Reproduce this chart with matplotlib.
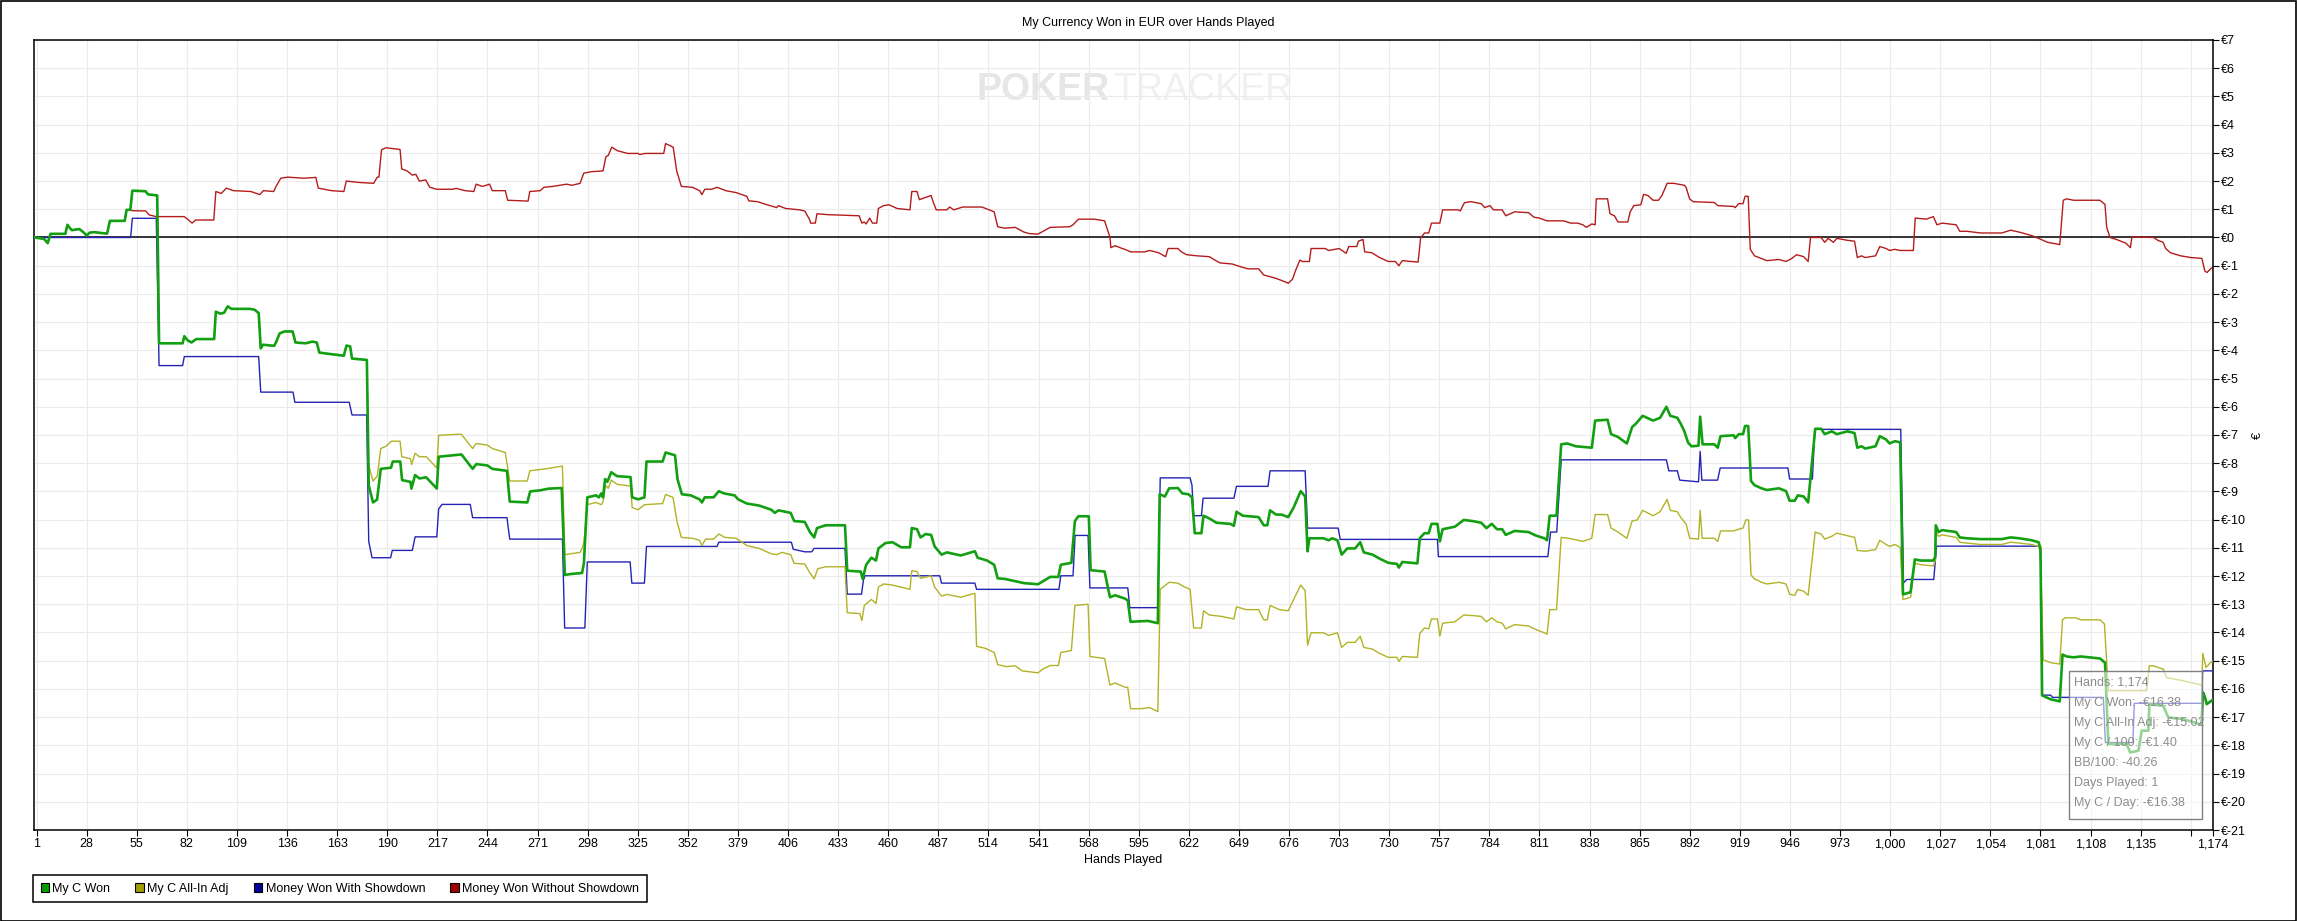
import matplotlib
matplotlib.use('Agg')
import matplotlib.pyplot as plt
from matplotlib import font_manager
from matplotlib.patches import Patch, Rectangle

# ---------------- data (hand number, cumulative EUR) ----------------
series_names = ["My C Won", "My C All-In Adj", "Money Won With Showdown", "Money Won Without Showdown"]

won_pts = [
    (0, 0), (5, -0.05), (7, -0.2), (8.5, 0.13), (16.5, 0.13), (17.6, 0.45), (19, 0.33), (20, 0.26), (24, 0.3),
    (26, 0.2), (28, 0.07), (29.5, 0.17), (32, 0.19), (37, 0.15), (39, 0.14), (40.5, 0.59), (48.5, 0.59),
    (49.5, 0.98), (51.5, 0.98), (52.6, 1.66), (59.7, 1.64), (61, 1.53), (66, 1.49), (67, -3.75), (79.7, -3.75),
    (80.6, -3.5), (82.5, -3.65), (84.5, -3.72), (87, -3.6), (96.7, -3.6), (97.6, -2.63), (100, -2.7), (102, -2.67),
    (104, -2.44), (106, -2.53), (116, -2.53), (118.5, -2.56), (120.7, -2.68), (121.8, -3.93), (123, -3.8),
    (129, -3.84), (130, -3.72), (132, -3.4), (134.5, -3.33), (139, -3.33), (140.5, -3.72), (146, -3.75),
    (149.6, -3.69), (152, -3.72), (153.4, -4.08), (158, -4.12), (166.6, -4.19), (168, -3.83), (170, -3.86),
    (171, -4.29), (179, -4.34), (180, -8.78), (182.3, -9.39), (184.5, -9.29), (186.5, -8.2), (192, -8.16),
    (193, -7.94), (197, -7.94), (198, -8.6), (202.5, -8.66), (203, -8.9), (205, -8.42), (207.3, -8.54), (211, -8.5),
    (216.7, -8.9), (217.7, -7.77), (230, -7.69), (236, -8.2), (238, -8.03), (244, -8.08), (246.6, -8.2),
    (254.5, -8.27), (256, -9.36), (265.5, -9.39), (267, -9.0), (272.5, -8.96), (277, -8.9), (284, -8.88),
    (285.7, -11.96), (288.6, -11.93), (295, -11.89), (296, -11.53), (297.8, -9.21), (302.5, -9.14), (304, -9.21),
    (305.4, -9.07), (306.3, -9.21), (307.4, -8.56), (308.6, -8.66), (310.7, -8.32), (313.9, -8.46), (321.1, -8.49),
    (322, -9.21), (325.2, -9.28), (328.6, -9.21), (329.7, -7.94), (338.4, -7.94), (340, -7.62), (345.1, -7.72),
    (346.4, -8.56), (348.8, -9.10), (353.6, -9.14), (358.3, -9.28), (359.6, -9.39), (361.1, -9.21), (365.9, -9.21),
    (368.7, -8.99), (371.5, -9.07), (377.2, -9.14), (379.1, -9.28), (383.8, -9.43), (390.4, -9.50), (397, -9.65),
    (398.9, -9.76), (400.8, -9.67), (407.4, -9.76), (409.3, -10.05), (415, -10.08), (417.8, -10.44),
    (420.1, -10.63), (421.6, -10.30), (426.3, -10.20), (436.7, -10.20), (437.9, -11.81), (445.2, -11.84),
    (446.2, -12.10), (448.1, -11.60), (450.9, -11.35), (453.4, -11.45), (454.7, -11.02), (458.5, -10.83),
    (462.3, -10.80), (467, -10.98), (471.7, -10.98), (472.7, -10.30), (475.5, -10.34), (477.4, -10.63),
    (480.2, -10.51), (483.1, -10.54), (485, -10.95), (488.7, -11.24), (491.6, -11.16), (499.1, -11.27),
    (506.7, -11.12), (508.2, -11.35), (513.3, -11.45), (517.1, -11.60), (519, -12.08), (522.8, -12.10),
    (528.4, -12.18), (533.2, -12.25), (540.7, -12.29), (543.5, -12.18), (547.3, -12.03), (551.7, -12.03),
    (553, -11.60), (558.7, -11.53), (560.6, -10.05), (562.5, -9.88), (568.1, -9.88), (569.1, -11.79),
    (576.6, -11.84), (579.5, -12.75), (582.3, -12.68), (587.6, -12.80), (589.1, -12.86), (590.6, -13.62),
    (600, -13.59), (605.3, -13.67), (606.3, -9.10), (609.1, -9.18), (611.4, -8.89), (616.1, -8.88), (618.5, -9.07),
    (621.8, -9.10), (623.7, -9.21), (625.2, -10.48), (628.8, -10.48), (629.9, -9.86), (633.1, -9.96),
    (636.9, -10.11), (644.4, -10.15), (646.3, -10.22), (647.7, -9.72), (651.1, -9.86), (659.6, -9.91),
    (662.4, -10.20), (664.3, -10.20), (665.8, -9.67), (669, -9.82), (671.9, -9.82), (675.6, -9.91), (678.5, -9.57),
    (682.3, -8.99), (684.7, -9.18), (686, -11.12), (687, -10.66), (694.5, -10.66), (697.4, -10.73), (699.3, -10.66),
    (702.1, -10.73), (704.4, -11.24), (707.4, -11.02), (711.6, -11.02), (714.4, -10.80), (716.3, -11.16),
    (721, -11.24), (724.8, -11.38), (729.5, -11.53), (734.2, -11.57), (735.2, -11.70), (737.1, -11.50),
    (741.8, -11.53), (745.2, -11.55), (746.5, -10.66), (749, -10.48), (751.3, -10.48), (752.8, -10.15),
    (756, -10.15), (757.3, -10.77), (758.8, -10.34), (765.4, -10.25), (770.2, -10.01), (774.9, -10.05),
    (779.6, -10.11), (782.4, -10.30), (785.3, -10.15), (788.1, -10.34), (790.9, -10.34), (792.8, -10.54),
    (797.6, -10.40), (805.1, -10.44), (808.9, -10.56), (813.6, -10.66), (815.1, -10.73), (816.5, -9.86),
    (820.2, -9.86), (822.7, -7.33), (825.9, -7.30), (830.6, -7.40), (839.2, -7.45), (841, -6.49), (847.7, -6.46),
    (849.6, -6.97), (853.3, -7.07), (858.1, -7.30), (860.9, -6.72), (862.8, -6.61), (866.6, -6.32), (872.2, -6.49),
    (876, -6.39), (879.4, -6.00), (881.5, -6.32), (885.3, -6.39), (887.2, -6.61), (889.1, -6.87), (891, -7.26),
    (892.9, -7.40), (896.7, -7.38), (897.6, -6.35), (898.9, -7.33), (905.2, -7.33), (907.1, -7.45), (908.6, -7.04),
    (915.6, -7.01), (916.5, -7.11), (918.4, -6.97), (920.7, -6.97), (921.8, -6.68), (923.5, -6.68), (925, -8.63),
    (926.9, -8.78), (930.7, -8.89), (933.5, -8.95), (940.1, -8.89), (943.9, -8.99), (945.8, -9.33), (948.6, -9.33),
    (950.2, -9.14), (953.4, -9.18), (955.8, -9.39), (959.6, -6.78), (962.8, -6.78), (964.7, -6.97), (968.5, -6.87),
    (971.3, -6.97), (977, -6.87), (980.8, -6.93), (982.3, -7.45), (984.6, -7.40), (986.5, -7.48), (992.1, -7.40),
    (994.4, -7.04), (997.8, -7.16), (999.7, -7.30), (1002.5, -7.22), (1005.4, -7.26), (1006.9, -12.65),
    (1011, -12.57), (1013.3, -11.41), (1016.7, -11.45), (1023.3, -11.45), (1024.3, -11.31), (1024.6, -10.20),
    (1026.1, -10.44), (1028, -10.37), (1035.6, -10.44), (1037.5, -10.63), (1041.3, -10.66), (1048.8, -10.69),
    (1060.2, -10.69), (1064.9, -10.63), (1069.6, -10.66), (1076.2, -10.73), (1080, -10.80), (1081, -11.02),
    (1081.9, -16.23), (1086.6, -16.37), (1091.4, -16.44), (1092.9, -14.78), (1095.1, -14.85), (1098.9, -14.88),
    (1102.7, -14.85), (1113.1, -14.92), (1115.8, -15.07), (1117.6, -17.95), (1127.5, -17.95), (1129.3, -18.25),
    (1133.8, -18.19), (1135.6, -17.48), (1139.2, -17.48), (1139.7, -16.54), (1147.2, -16.6), (1149.9, -17.01),
    (1158, -17.07), (1167, -17.25), (1167.8, -17.25), (1168.6, -16.12), (1169.7, -16.3), (1170.6, -16.54),
    (1172.7, -16.44), (1174, -16.38),
]

allin_pts = [
    (0, 0), (5, -0.05), (7, -0.2), (8.5, 0.13), (16.5, 0.13), (17.6, 0.45), (19, 0.33), (20, 0.26), (24, 0.3),
    (26, 0.2), (28, 0.07), (29.5, 0.17), (32, 0.19), (37, 0.15), (39, 0.14), (40.5, 0.59), (48.5, 0.59),
    (49.5, 0.98), (51.5, 0.98), (52.6, 1.66), (59.7, 1.64), (61, 1.53), (66, 1.49), (67, -3.75), (79.7, -3.75),
    (80.6, -3.5), (82.5, -3.65), (84.5, -3.72), (87, -3.6), (96.7, -3.6), (97.6, -2.63), (100, -2.7), (102, -2.67),
    (104, -2.44), (106, -2.53), (116, -2.53), (118.5, -2.56), (120.7, -2.68), (121.8, -3.93), (123, -3.8),
    (129, -3.84), (130, -3.72), (132, -3.4), (134.5, -3.33), (139, -3.33), (140.5, -3.72), (146, -3.75),
    (149.6, -3.69), (152, -3.72), (153.4, -4.08), (158, -4.12), (166.6, -4.19), (168, -3.83), (170, -3.86),
    (171, -4.29), (179, -4.34), (179.9, -8.05), (182.3, -8.63), (184.6, -8.46), (186.5, -7.48), (189.3, -7.40),
    (192.2, -7.22), (196.9, -7.22), (197.8, -7.77), (202.5, -7.84), (203.1, -8.05), (205, -7.65), (207.3, -7.77),
    (211, -7.77), (216.7, -8.17), (217.7, -7.01), (229.9, -6.97), (236, -7.48), (237.9, -7.30), (244.1, -7.36),
    (246.6, -7.48), (253.6, -7.62), (256, -8.63), (265.5, -8.63), (266.8, -8.27), (275.3, -8.20), (284.4, -8.10),
    (285.7, -11.24), (293.9, -11.16), (295, -11.02), (296, -10.80), (297.8, -9.47), (302.5, -9.39), (305.4, -9.47),
    (306.3, -9.36), (307.6, -8.78), (309.1, -8.89), (310.7, -8.60), (313.9, -8.75), (321.1, -8.81), (322, -9.57),
    (325.2, -9.65), (328.6, -9.47), (338.4, -9.43), (340, -9.11), (344, -9.21), (346.2, -10.08), (348.5, -10.63),
    (354.5, -10.66), (358.3, -10.73), (359.6, -10.92), (361.5, -10.69), (365.9, -10.69), (368.7, -10.51),
    (372, -10.63), (378, -10.66), (383.8, -10.92), (390.4, -11.02), (397, -11.21), (399.9, -11.24),
    (402.7, -11.16), (407.4, -11.24), (409.3, -11.55), (415, -11.57), (417.8, -11.89), (420.1, -12.10),
    (422, -11.74), (426.3, -11.67), (436.7, -11.67), (437.9, -13.30), (444.7, -13.33), (445.8, -13.58),
    (447.1, -13.04), (450.9, -12.83), (453.4, -12.97), (454.7, -12.39), (457.5, -12.28), (462.3, -12.32),
    (471.7, -12.47), (472.7, -11.81), (475.5, -11.84), (477.4, -12.08), (483.1, -11.99), (485, -12.39),
    (488.7, -12.71), (491.6, -12.65), (499.1, -12.75), (506.7, -12.61), (507.6, -14.49), (512.3, -14.56),
    (517.1, -14.71), (519, -15.14), (523.7, -15.21), (528.4, -15.18), (532.2, -15.36), (540.7, -15.43),
    (543.5, -15.29), (547.3, -15.17), (551.7, -15.17), (553, -14.71), (558.7, -14.64), (560.6, -13.04),
    (567.7, -13.00), (568.7, -14.85), (576.6, -14.92), (579.5, -15.86), (582.3, -15.79), (587.6, -15.94),
    (589.1, -15.94), (590.6, -16.70), (596.2, -16.70), (600.8, -16.66), (605.3, -16.80), (606.6, -12.47),
    (611.4, -12.22), (616.1, -12.25), (618.9, -12.36), (622.7, -12.47), (624.6, -13.84), (628.8, -13.84),
    (629.9, -13.23), (633.1, -13.38), (639.7, -13.43), (646.3, -13.52), (647.7, -13.09), (652.9, -13.19),
    (659.6, -13.19), (662.4, -13.55), (664.3, -13.55), (665.8, -13.04), (670.9, -13.19), (675.6, -13.23),
    (678.5, -12.83), (682.3, -12.32), (684.7, -12.51), (686, -14.45), (687.9, -14.01), (694.5, -14.01),
    (697.4, -14.10), (702.1, -14.01), (704.4, -14.53), (707.4, -14.35), (711.6, -14.35), (714.4, -14.13),
    (716.3, -14.53), (721, -14.59), (724.8, -14.74), (729.5, -14.88), (734.2, -14.88), (735.2, -15.03),
    (737.1, -14.85), (745.2, -14.88), (746.5, -14.03), (749, -13.84), (751.3, -13.87), (752.8, -13.52),
    (756, -13.52), (757.3, -14.13), (758.8, -13.67), (765.4, -13.62), (770.2, -13.38), (774.9, -13.40),
    (779.6, -13.43), (782.4, -13.62), (785.3, -13.48), (788.1, -13.62), (790.9, -13.67), (792.8, -13.87),
    (797.6, -13.72), (805.1, -13.77), (809.6, -13.91), (813.6, -14.01), (815.1, -14.06), (816.5, -13.19),
    (820.2, -13.19), (822.7, -10.63), (826.6, -10.66), (834.4, -10.77), (839.2, -10.66), (841, -9.82),
    (847.7, -9.82), (849.6, -10.30), (853.3, -10.44), (858.1, -10.66), (860.9, -10.05), (863.7, -10.01),
    (866.6, -9.67), (872.2, -9.86), (876, -9.72), (879.8, -9.28), (881.5, -9.67), (885.3, -9.72), (887.2, -9.93),
    (890, -10.15), (892, -10.66), (896.7, -10.69), (897.6, -9.67), (898.7, -10.66), (905.2, -10.66),
    (907.1, -10.77), (908.6, -10.40), (915.6, -10.40), (918.4, -10.34), (920.7, -10.30), (922.2, -10.01),
    (923.7, -10.01), (925, -11.96), (926.9, -12.10), (930.7, -12.22), (933.5, -12.28), (940.1, -12.22),
    (943.9, -12.28), (945.8, -12.65), (948.6, -12.68), (950.2, -12.47), (953.4, -12.54), (955.8, -12.68),
    (959.6, -10.44), (962.8, -10.51), (964.7, -10.69), (968.5, -10.59), (971.3, -10.48), (975.1, -10.54),
    (980.8, -10.63), (982.3, -11.09), (986.5, -11.12), (992.1, -11.06), (994.4, -10.73), (997.8, -10.88),
    (999.7, -10.95), (1002.5, -10.88), (1005.4, -10.98), (1006.9, -12.83), (1011, -12.75), (1013.3, -11.55),
    (1016.7, -11.60), (1023.3, -11.64), (1024.3, -11.45), (1024.6, -10.44), (1026.1, -10.59), (1028, -10.54),
    (1035.6, -10.63), (1037.5, -10.80), (1041.3, -10.83), (1048.8, -10.88), (1060.2, -10.88), (1064.9, -10.80),
    (1069.6, -10.83), (1076.2, -10.88), (1080, -10.95), (1081, -11.16), (1082.5, -14.97), (1086.6, -15.07),
    (1091.4, -15.12), (1092.9, -13.55), (1094.3, -13.48), (1100, -13.48), (1102.7, -13.55), (1113.1, -13.55),
    (1115.5, -13.70), (1117.6, -16.06), (1138.2, -16.06), (1139.7, -15.18), (1141.8, -15.18), (1147.2, -15.3),
    (1149, -15.6), (1158, -15.71), (1167, -15.85), (1167.9, -15.89), (1168.5, -14.74), (1170.2, -15.24),
    (1172.7, -15.06), (1174, -15.02),
]

sd_pts = [
    (0, 0), (51.7, 0), (52.6, 0.68), (65.5, 0.68), (67, -4.54), (79.7, -4.54), (80.6, -4.22), (120.7, -4.22),
    (121.8, -5.48), (139.2, -5.48), (140.2, -5.84), (169.5, -5.84), (171, -6.29), (178.9, -6.29), (180, -10.77),
    (181.8, -11.35), (191.8, -11.35), (192.7, -11.09), (203.5, -11.09), (205, -10.61), (216.7, -10.61),
    (217.7, -9.62), (219.5, -9.46), (234.7, -9.46), (236, -9.93), (254.5, -9.93), (256, -10.69), (284.4, -10.69),
    (285.6, -13.84), (296.5, -13.84), (297.8, -11.50), (320.9, -11.50), (321.8, -12.25), (328.6, -12.25),
    (329.7, -10.95), (367.7, -10.95), (368.7, -10.80), (407.8, -10.80), (408.8, -11.05), (415, -11.14),
    (418.8, -11.14), (420, -11.02), (436.7, -11.02), (437.9, -12.64), (445.6, -12.64), (446.6, -12.15),
    (447.5, -11.99), (487.8, -11.99), (488.7, -12.25), (506.7, -12.25), (507.6, -12.47), (552, -12.47),
    (553, -11.99), (559.6, -11.99), (560.7, -10.56), (567.7, -10.56), (568.7, -12.42), (589.1, -12.42),
    (590.2, -13.12), (605.3, -13.12), (606.6, -8.52), (622.7, -8.52), (623.7, -8.78), (624.6, -9.86),
    (628.8, -9.86), (629.7, -9.24), (646.3, -9.24), (647.7, -8.82), (664.7, -8.82), (665.8, -8.27), (684.7, -8.27),
    (686, -10.30), (702.5, -10.30), (703.6, -10.70), (756, -10.70), (756.5, -11.31), (815.5, -11.31),
    (817, -10.44), (820.3, -10.44), (822.7, -7.88), (879.4, -7.88), (880.7, -8.27), (885.3, -8.27),
    (886.6, -8.60), (896.7, -8.66), (897.6, -7.58), (898.5, -8.60), (907, -8.60), (908.4, -8.17), (944.9, -8.17),
    (945.8, -8.56), (958.1, -8.56), (959.4, -6.80), (1005.7, -6.80), (1007.2, -12.24), (1009, -12.12),
    (1023.5, -12.12), (1025, -10.94), (1081, -10.94), (1081.9, -16.22), (1086.5, -16.22), (1087.5, -16.3),
    (1114.9, -16.3), (1116, -17.9), (1130.8, -17.9), (1131.6, -16.51), (1167.9, -16.51), (1168.4, -15.36),
    (1174, -15.36),
]

nosd_pts = [
    (0, 0), (5, -0.05), (7, -0.2), (8.5, 0.13), (16.5, 0.13), (17.6, 0.45), (19, 0.33), (20, 0.26), (24, 0.3),
    (26, 0.2), (28, 0.07), (29.5, 0.17), (32, 0.19), (37, 0.15), (39, 0.14), (40.5, 0.59), (48.5, 0.59),
    (49.5, 0.98), (51.5, 0.98), (52.6, 0.95), (59.8, 0.94), (61.7, 0.80), (65.5, 0.74), (80.6, 0.74), (82.9, 0.62),
    (84.8, 0.51), (86.7, 0.62), (96.5, 0.62), (97.6, 1.63), (100.5, 1.56), (103.3, 1.75), (107.1, 1.66),
    (116.5, 1.63), (121.3, 1.52), (123.2, 1.66), (128.8, 1.63), (129.8, 1.78), (132.6, 2.10), (136.4, 2.14),
    (144.9, 2.10), (151.5, 2.13), (152.8, 1.75), (160, 1.66), (166.6, 1.63), (167.9, 2.00), (175.1, 1.95),
    (182.7, 1.92), (184.6, 2.14), (185.5, 2.14), (186.9, 3.11), (189.3, 3.18), (196.9, 3.12), (197.8, 2.43),
    (200.7, 2.36), (203.5, 2.21), (205.4, 2.24), (207.3, 2.00), (210.7, 2.04), (212.9, 1.78), (216.7, 1.71),
    (225.2, 1.71), (227.1, 1.74), (231.9, 1.66), (236.6, 1.63), (237.9, 1.89), (241.3, 1.81), (245.1, 1.89),
    (246.6, 1.66), (253.6, 1.66), (254.9, 1.32), (265.9, 1.29), (266.8, 1.63), (272.5, 1.66), (274.4, 1.78),
    (279.1, 1.81), (286.7, 1.89), (289.5, 1.85), (293.9, 1.92), (295.9, 2.28), (299.7, 2.33), (306.3, 2.36),
    (307.8, 2.86), (309.1, 2.91), (311, 3.20), (313.9, 3.08), (319.5, 2.98), (325.2, 2.98), (326.1, 2.94),
    (329, 2.98), (339, 2.98), (340, 3.33), (344.1, 3.20), (346, 2.36), (348.5, 1.81), (354.5, 1.78),
    (358.3, 1.66), (359.6, 1.52), (361.1, 1.71), (364.9, 1.71), (367.7, 1.78), (372.5, 1.66), (378.1, 1.59),
    (383.8, 1.46), (384.8, 1.30), (389.5, 1.27), (394.2, 1.17), (399.9, 1.06), (400.8, 1.13), (404.6, 1.03),
    (412.2, 0.98), (415, 0.94), (417.5, 0.65), (418.2, 0.51), (420.7, 0.51), (421.6, 0.84), (427.3, 0.81),
    (444.3, 0.77), (445.8, 0.51), (447.1, 0.55), (448.1, 0.48), (450, 0.69), (451.5, 0.51), (453.8, 0.51),
    (454.7, 1.03), (457.5, 1.13), (460.4, 1.16), (464.7, 1.03), (471.7, 0.98), (472.7, 1.63), (475.5, 1.63),
    (476.8, 1.34), (480.2, 1.42), (483.1, 1.49), (484.4, 1.23), (485.9, 0.98), (491.6, 0.98), (493.1, 1.08),
    (495.3, 0.98), (500.1, 1.08), (510.5, 1.08), (517.1, 0.91), (519, 0.38), (522.8, 0.33), (528.4, 0.36),
    (533.2, 0.19), (536, 0.14), (540.7, 0.12), (543.5, 0.22), (547.3, 0.36), (557.7, 0.38), (559.6, 0.45),
    (562.5, 0.65), (571, 0.65), (576.6, 0.59), (579.5, 0.01), (580, -0.36), (582.3, -0.29), (586.1, -0.39),
    (587.6, -0.42), (590.6, -0.51), (598.1, -0.51), (601, -0.46), (605.7, -0.54), (609.5, -0.68), (610.8, -0.39),
    (616.1, -0.39), (618, -0.51), (620.8, -0.61), (626.5, -0.65), (633.1, -0.68), (636, -0.80), (638.8, -0.90),
    (645.4, -0.94), (650.1, -1.04), (653.9, -1.11), (659.6, -1.11), (662.4, -1.33), (668.1, -1.43),
    (671.9, -1.52), (675.6, -1.62), (677.9, -1.48), (679.4, -1.19), (681.9, -0.80), (683.2, -0.85), (687, -0.85),
    (687.9, -0.39), (695.5, -0.39), (697.4, -0.46), (703, -0.39), (706.8, -0.56), (708.2, -0.32), (712.5, -0.32),
    (713.4, -0.13), (715.9, -0.07), (716.8, -0.51), (720.6, -0.54), (724.8, -0.71), (729.5, -0.85),
    (733.3, -0.85), (735.2, -1.00), (737.1, -0.82), (741.8, -0.85), (745.6, -0.87), (746.9, -0.03), (749, 0.16),
    (751.3, 0.16), (752.8, 0.51), (757.3, 0.51), (758.8, 0.98), (767.3, 0.98), (768.3, 0.94), (770.5, 1.23),
    (773.9, 1.27), (779.6, 1.20), (781.5, 1.06), (784.3, 1.13), (786.2, 0.98), (790.9, 0.98), (792.8, 0.77),
    (797.6, 0.91), (805.1, 0.88), (808, 0.72), (810.8, 0.69), (815.1, 0.59), (824, 0.59), (827.8, 0.51),
    (831.6, 0.51), (834.4, 0.45), (836.3, 0.36), (839.2, 0.48), (841, 0.45), (841.6, 1.37), (847.7, 1.37),
    (849, 0.84), (851.4, 0.77), (853.3, 0.55), (858.6, 0.55), (859.9, 0.91), (861.8, 1.13), (865.6, 1.16),
    (867.1, 1.53), (869.4, 1.49), (872.2, 1.32), (875.1, 1.32), (877, 1.49), (879.8, 1.92), (883.4, 1.92),
    (889.1, 1.85), (890, 1.78), (891.9, 1.37), (893.8, 1.27), (905.2, 1.24), (907.1, 1.13), (915.6, 1.10),
    (916.5, 1.06), (918.4, 1.20), (920.7, 1.20), (921.8, 1.46), (923.5, 1.46), (924.6, -0.42), (926.9, -0.65),
    (930.7, -0.75), (933.5, -0.82), (940.1, -0.78), (943.9, -0.85), (946.8, -0.75), (949.6, -0.61),
    (953.4, -0.68), (955.8, -0.85), (957.1, 0.0), (962.8, 0.0), (964.7, -0.17), (966.6, -0.03), (969.4, -0.17),
    (971.3, -0.03), (977, -0.10), (980.8, -0.13), (982.3, -0.71), (984.6, -0.65), (986.5, -0.71), (992.1, -0.65),
    (994.4, -0.32), (997.8, -0.39), (999.7, -0.46), (1002.5, -0.42), (1005.4, -0.46), (1012.5, -0.46),
    (1013.5, 0.69), (1019.5, 0.65), (1023.3, 0.74), (1025.2, 0.45), (1028, 0.51), (1035.6, 0.45), (1037.5, 0.22),
    (1041.3, 0.22), (1048.8, 0.16), (1060.2, 0.16), (1064.9, 0.26), (1069.6, 0.19), (1076.2, 0.07),
    (1080, -0.03), (1084.8, -0.17), (1091.4, -0.25), (1093.3, 1.32), (1095.1, 1.37), (1098.9, 1.32),
    (1113.1, 1.32), (1115.8, 1.17), (1116.7, 0.36), (1118.5, 0.0), (1122, -0.07), (1127, -0.2), (1129.5, -0.36),
    (1130.3, 0.02), (1142, 0.0), (1144.3, -0.10), (1147.1, -0.17), (1148.5, -0.39), (1151, -0.54),
    (1156.6, -0.65), (1162, -0.71), (1168, -0.74), (1169.6, -1.19), (1170.8, -1.24), (1172.7, -1.11),
    (1174, -1.05),
]

x_ticks = list(range(1, 1163, 27)) + [1174]
y_ticks = list(range(-21, 8))

tooltip_lines = ["Hands: 1,174", "My C Won: -\u20ac16.38", "My C All-In Adj: -\u20ac15.02", "My C / 100: -\u20ac1.40",
                 "BB/100: -40.26", "Days Played: 1", "My C / Day: -\u20ac16.38"]

# ---------------- styling ----------------
line_colors = {"won": "#12a012", "allin": "#b2b226", "sd": "#2424b4", "nosd": "#b41c1c"}
legend_colors = ["#00a000", "#a0a000", "#0000a0", "#a00000"]

available = {f.name for f in font_manager.fontManager.ttflist}
base_font = 'Liberation Sans' if 'Liberation Sans' in available else 'DejaVu Sans'
narrow_font = 'Liberation Sans Narrow' if 'Liberation Sans Narrow' in available else base_font
wm_size = 33 if narrow_font == 'Liberation Sans Narrow' else 27
plt.rcParams['font.family'] = [base_font, 'DejaVu Sans']

W, H = 2297, 921
fig = plt.figure(figsize=(W / 100, H / 100), dpi=100)
fig.patch.set_facecolor('white')

ax_l, ax_r, ax_t, ax_b = 33.5, 2213, 40, 830
ax = fig.add_axes([ax_l / W, 1 - ax_b / H, (ax_r - ax_l) / W, (ax_b - ax_t) / H])
ax.set_xlim(-0.67, 1174)
ax.set_ylim(-21, 7)
ax.set_axisbelow(True)
ax.grid(True, color='#ebebeb', linewidth=0.8)

for sp in ax.spines.values():
    sp.set_color('black')
    sp.set_linewidth(1.1)

ax.set_xticks(x_ticks)
ax.set_xticklabels(['' if t == 1162 else f"{t:,}" for t in x_ticks])
ax.set_yticks(y_ticks)
ax.set_yticklabels([f"\u20ac{v}" for v in y_ticks])
ax.yaxis.tick_right()
ax.tick_params(axis='both', direction='out', length=4, width=0.8, labelsize=9, pad=2, colors='black')

# watermark
wm_kw = dict(transform=ax.transAxes, va='center', fontsize=wm_size, zorder=0.1, family=[narrow_font, 'DejaVu Sans'])
ax.text((1110 - ax_l) / (ax_r - ax_l), (ax_b - 90) / (ax_b - ax_t), "POKER", ha='right', color='#e6e6e6',
        fontweight='bold', **wm_kw)
ax.text((1113 - ax_l) / (ax_r - ax_l), (ax_b - 90) / (ax_b - ax_t), "TRACKER", ha='left', color='#f0f0f0', **wm_kw)

ax.axhline(0, color='black', linewidth=1.1, zorder=1.5)

def draw(pts, color, lw, z):
    hx, hy = zip(*pts)
    ax.plot(hx, hy, color=color, linewidth=lw, zorder=z, solid_joinstyle='round')

draw(nosd_pts, line_colors["nosd"], 1.0, 2)
draw(sd_pts, line_colors["sd"], 1.0, 3)
draw(allin_pts, line_colors["allin"], 1.0, 4)
draw(won_pts, line_colors["won"], 1.9, 5)

# titles and labels
fig.text(0.5, 1 - 23 / H, "My Currency Won in EUR over Hands Played", ha='center', va='center', fontsize=9)
fig.text((ax_l + ax_r) / 2 / W, 1 - 860 / H, "Hands Played", ha='center', va='center', fontsize=9)
fig.text(2258 / W, 1 - 435 / H, "\u20ac", ha='center', va='center', fontsize=9, rotation=90)

# tooltip box
tb_x0, tb_x1, tb_y0, tb_y1 = 2069, 2202, 670.7, 819
fig.patches.append(Rectangle((tb_x0 / W, 1 - tb_y1 / H), (tb_x1 - tb_x0) / W, (tb_y1 - tb_y0) / H,
                             transform=fig.transFigure, facecolor=(1, 1, 1, 0.55), edgecolor='#808080',
                             linewidth=1.0, zorder=1))
for i, line in enumerate(tooltip_lines):
    fig.text(2074 / W, 1 - (682.7 + 20 * i) / H, line, ha='left', va='center', fontsize=9, color='#8c8c8c', zorder=2)

# legend
handles = [Patch(facecolor=c, edgecolor='black', linewidth=0.8) for c in legend_colors]
leg = fig.legend(handles, series_names, loc='lower left', bbox_to_anchor=(33 / W, 1 - 902 / H), ncol=4,
                 fontsize=9, frameon=True, fancybox=False, edgecolor='black', framealpha=1,
                 handlelength=0.7, handleheight=0.7, handletextpad=0.25, columnspacing=2.0,
                 borderpad=0.6, borderaxespad=0)
leg.get_frame().set_linewidth(1.1)

# outer border
fig.patches.append(Rectangle((0.5 / W, 0.5 / H), (W - 1.5) / W, (H - 1.5) / H, transform=fig.transFigure,
                             fill=False, edgecolor='black', linewidth=1.2, zorder=3))

fig.savefig('out.png', dpi=100)
